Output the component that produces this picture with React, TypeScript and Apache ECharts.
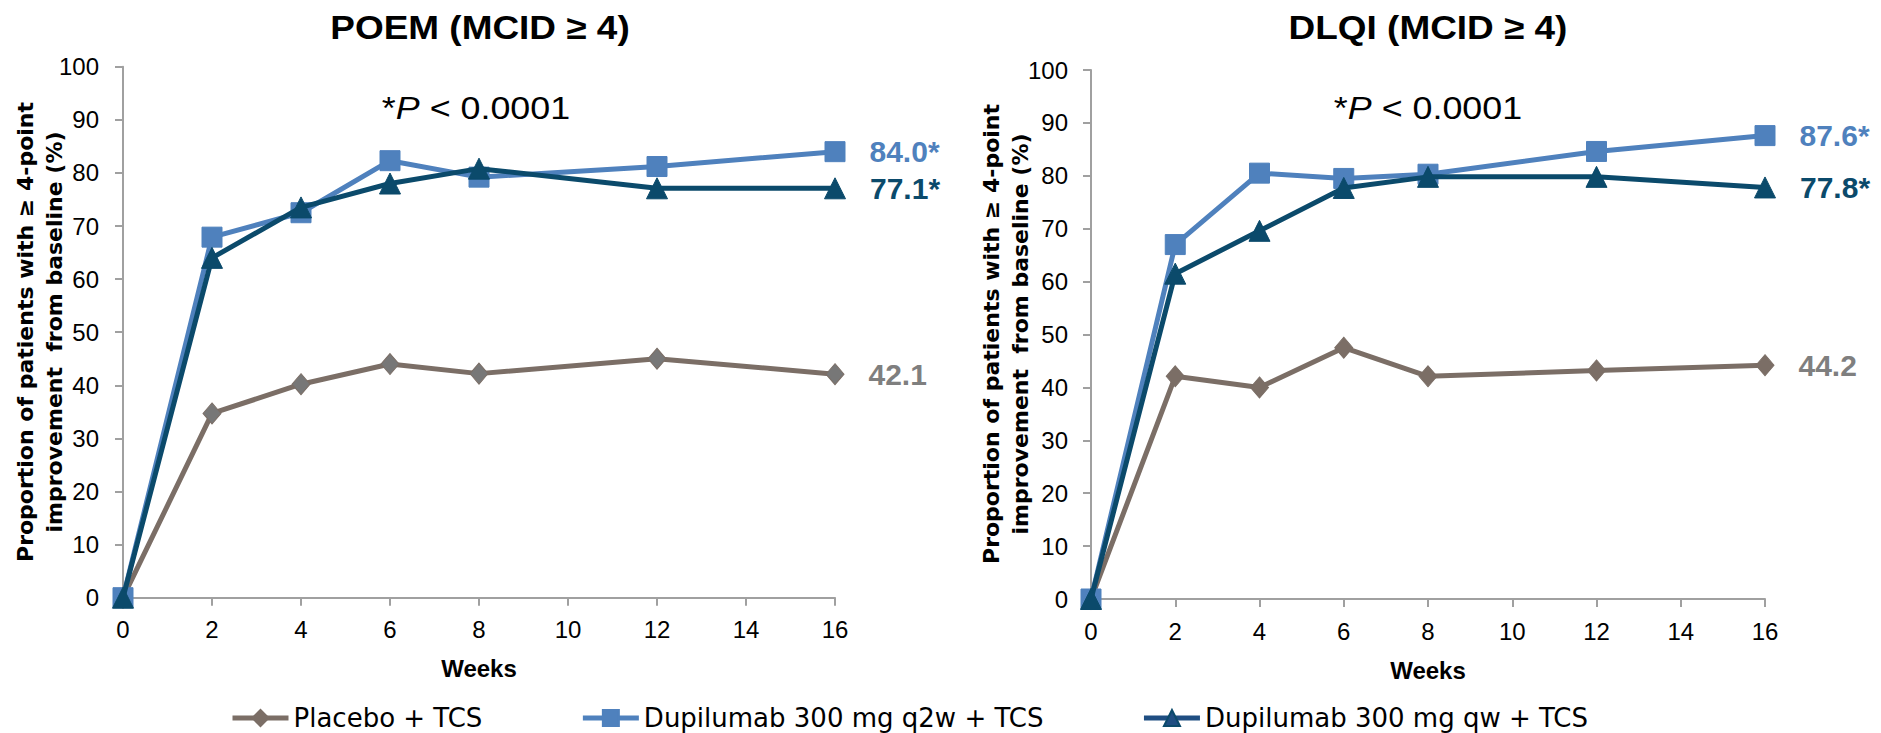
import React, { useEffect, useRef } from "react";
import * as echarts from "echarts";

const weeks = [0, 2, 4, 6, 8, 12, 16];

const poemPlacebo = [0, 34.7, 40.2, 44.0, 42.2, 45.0, 42.1];
const poemQ2w = [0, 67.9, 72.5, 82.3, 79.2, 81.2, 84.0];
const poemQw = [0, 64.0, 73.5, 78.0, 80.8, 77.1, 77.1];

const dlqiPlacebo = [0, 42.1, 40.0, 47.5, 42.1, 43.2, 44.2];
const dlqiQ2w = [0, 67.0, 80.5, 79.5, 80.3, 84.6, 87.6];
const dlqiQw = [0, 61.5, 69.6, 77.7, 79.8, 79.8, 77.8];

const poemEndLabels = ["42.1", "84.0*", "77.1*"];
const dlqiEndLabels = ["44.2", "87.6*", "77.8*"];

const seriesNames = ["Placebo + TCS", "Dupilumab 300 mg q2w + TCS", "Dupilumab 300 mg qw + TCS"];
const chartTitles = ["POEM (MCID \u2265 4)", "DLQI (MCID \u2265 4)"];
const yName1 = "Proportion of patients with \u2265 4-point";
const yName2 = "improvement  from baseline (%)";
const xName = "Weeks";

const C_PLACEBO = "#7b6e66";
const C_Q2W = "#4f81bd";
const C_QW = "#0b4a6b";
const C_GRAY = "#7f7f7f";
const AXIS = "#a0a0a0";
const ARIAL = "'Liberation Sans', Arial, sans-serif";
const WIDE = "'DejaVu Sans', Verdana, sans-serif";

function buildSeries(
  name: string,
  vals: number[],
  gi: number,
  color: string,
  markColor: string,
  symbol: string,
  size: number | number[],
  endLabel: string,
  labelColor: string,
  z: number
) {
  return {
    type: "line",
    name,
    xAxisIndex: gi,
    yAxisIndex: gi,
    symbol,
    symbolSize: size,
    z,
    lineStyle: { width: 5, color },
    itemStyle: { color: markColor, borderColor: color, borderWidth: 1 },
    emphasis: { disabled: true },
    data: vals.map((v, i) =>
      i === vals.length - 1
        ? {
            value: [weeks[i], v],
            label: {
              show: true,
              formatter: endLabel,
              position: "right",
              distance: 24,
              color: labelColor,
              fontSize: 30,
              fontWeight: "bold",
              fontFamily: ARIAL,
            },
          }
        : [weeks[i], v]
    ),
  };
}

function xAxis(gi: number) {
  return {
    type: "value",
    gridIndex: gi,
    min: 0,
    max: 16,
    interval: 2,
    name: xName,
    nameLocation: "middle",
    nameGap: 59,
    nameTextStyle: { fontFamily: ARIAL, fontWeight: "bold", fontSize: 24, color: "#000" },
    axisLine: { show: true, lineStyle: { color: AXIS, width: 2 } },
    axisTick: { show: true, length: 8, lineStyle: { color: AXIS, width: 2 } },
    axisLabel: { fontFamily: ARIAL, fontSize: 24, color: "#000", margin: 20 },
    splitLine: { show: false },
  };
}

function yAxis(gi: number, margin: number) {
  return {
    type: "value",
    gridIndex: gi,
    min: 0,
    max: 100,
    interval: 10,
    axisLine: { show: true, lineStyle: { color: AXIS, width: 2 } },
    axisTick: { show: true, length: 8, lineStyle: { color: AXIS, width: 2 } },
    axisLabel: { fontFamily: ARIAL, fontSize: 24, color: "#000", margin },
    splitLine: { show: false },
  };
}

function titleGraphics(cx: number, cy: number, txt: string) {
  return {
    type: "text",
    x: cx,
    y: cy,
    scaleX: 1.12,
    style: {
      text: txt,
      font: `bold 33px ${ARIAL}`,
      fill: "#000",
      align: "center",
      verticalAlign: "middle",
    },
  };
}

function pGraphic(cx: number, cy: number) {
  return {
    type: "text",
    x: cx,
    y: cy,
    scaleX: 1.12,
    style: {
      text: "{a|*}{i|P}{a| < 0.0001}",
      align: "center",
      verticalAlign: "middle",
      fill: "#000",
      font: `32px ${ARIAL}`,
      rich: {
        a: { fontSize: 32, fontFamily: ARIAL, fill: "#000" },
        i: { fontSize: 32, fontFamily: ARIAL, fontStyle: "italic", fill: "#000" },
      },
    },
  };
}

function yNameGraphic(cx: number, cy: number) {
  return {
    type: "text",
    x: cx,
    y: cy,
    rotation: Math.PI / 2,
    style: {
      text: yName1 + "\n" + yName2,
      font: `bold 22px ${WIDE}`,
      fill: "#000",
      align: "center",
      verticalAlign: "middle",
      lineHeight: 29,
    },
  };
}

export default function App() {
  const ref = useRef<HTMLDivElement>(null);
  useEffect(() => {
    if (!ref.current) return;
    const chart = echarts.init(ref.current, undefined, { renderer: "svg" });
    chart.setOption({
      animation: false,
      backgroundColor: "#fff",
      grid: [
        { left: 123, top: 66.7, width: 712, height: 531 },
        { left: 1091, top: 70, width: 674, height: 529 },
      ],
      xAxis: [xAxis(0), xAxis(1)],
      yAxis: [yAxis(0, 24), yAxis(1, 23)],
      legend: {
        left: 225,
        top: 700,
        itemWidth: 56,
        itemHeight: 20,
        itemGap: 98,
        textStyle: { fontFamily: WIDE, fontSize: 26, color: "#000" },
        data: [
          { name: seriesNames[0], itemStyle: { color: C_PLACEBO }, lineStyle: { color: C_PLACEBO, width: 5 } },
          { name: seriesNames[1], itemStyle: { color: C_Q2W }, lineStyle: { color: C_Q2W, width: 5 } },
          { name: seriesNames[2], itemStyle: { color: "#1f4e82" }, lineStyle: { color: "#1f4e82", width: 5 } },
        ],
      },
      graphic: [
        titleGraphics(480, 27, chartTitles[0]),
        titleGraphics(1428, 27, chartTitles[1]),
        pGraphic(476, 108),
        pGraphic(1428, 108),
        yNameGraphic(40, 332),
        yNameGraphic(1006, 334),
      ],
      series: [
        buildSeries(seriesNames[0], poemPlacebo, 0, C_PLACEBO, "#777777", "diamond", [18, 21], poemEndLabels[0], C_GRAY, 2),
        buildSeries(seriesNames[1], poemQ2w, 0, C_Q2W, C_Q2W, "rect", 20, poemEndLabels[1], C_Q2W, 3),
        buildSeries(seriesNames[2], poemQw, 0, C_QW, C_QW, "triangle", 21, poemEndLabels[2], C_QW, 4),
        buildSeries(seriesNames[0], dlqiPlacebo, 1, C_PLACEBO, C_PLACEBO, "diamond", [18, 21], dlqiEndLabels[0], C_GRAY, 2),
        buildSeries(seriesNames[1], dlqiQ2w, 1, C_Q2W, C_Q2W, "rect", 20, dlqiEndLabels[1], C_Q2W, 3),
        buildSeries(seriesNames[2], dlqiQw, 1, C_QW, C_QW, "triangle", 21, dlqiEndLabels[2], C_QW, 4),
      ],
    });
    return () => chart.dispose();
  }, []);
  return (
    <div
      ref={ref}
      style={{ position: "absolute", left: 0, top: 0, width: 1881, height: 733 }}
    />
  );
}
